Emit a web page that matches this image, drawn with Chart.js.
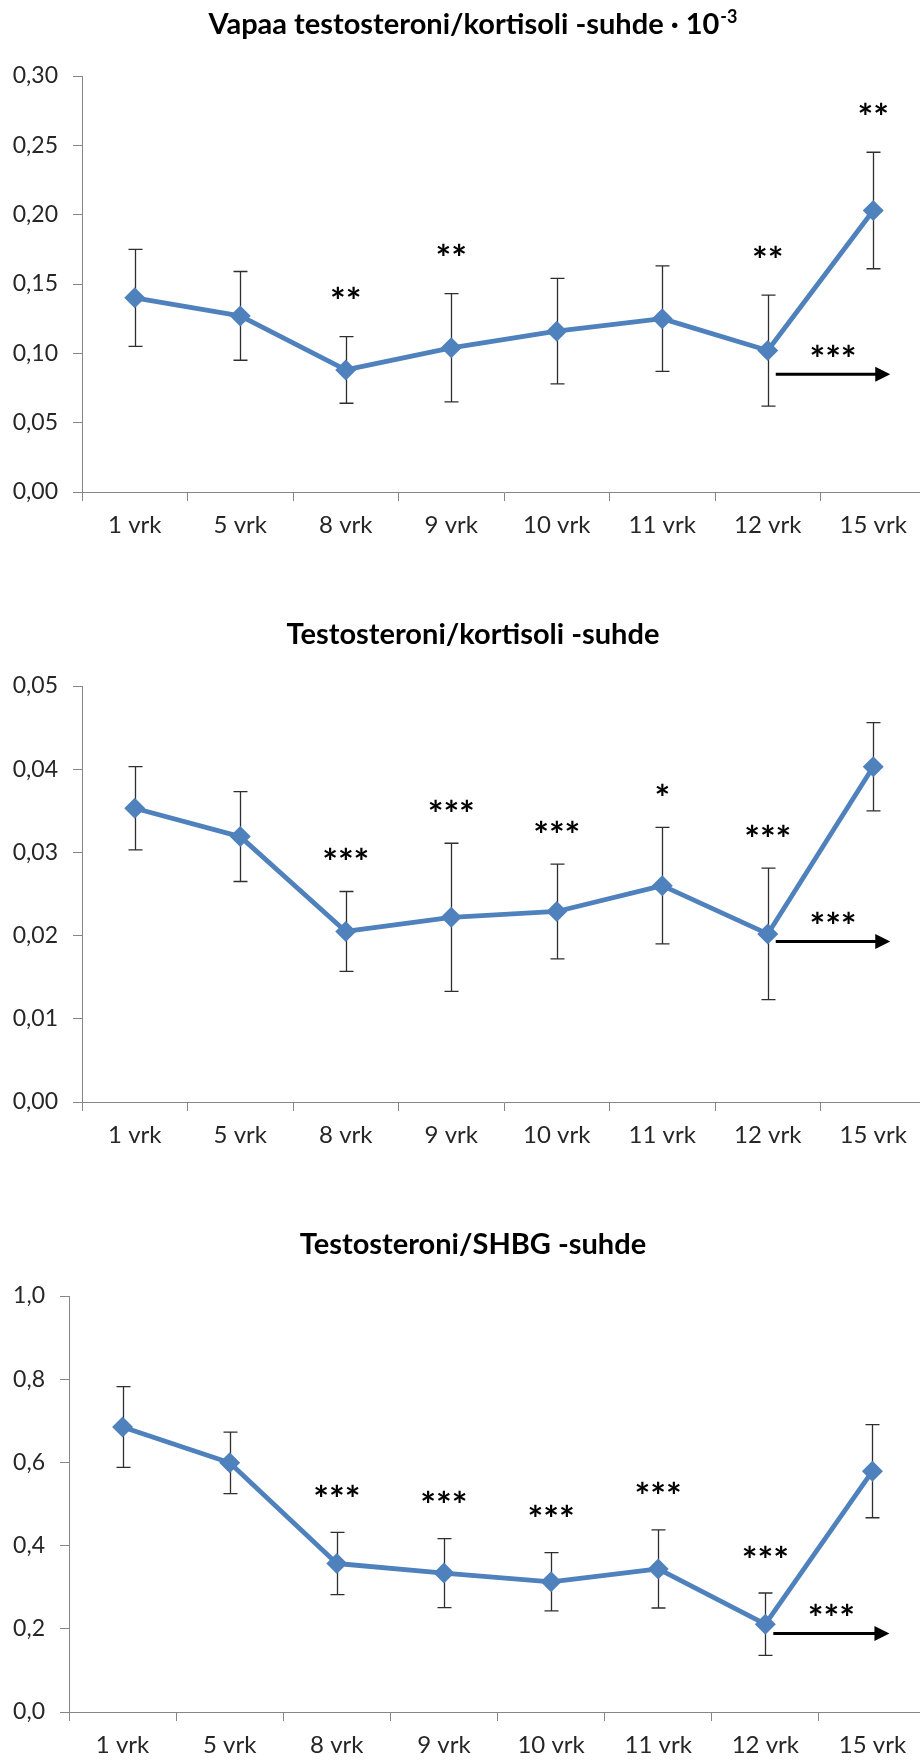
<!DOCTYPE html>
<html>
<head>
<meta charset="utf-8">
<script src="https://cdn.jsdelivr.net/npm/chart.js@4.4.1/dist/chart.umd.min.js"></script>
<style>
  html, body { margin: 0; padding: 0; background: #ffffff; }
  body { width: 920px; height: 1761px; overflow: hidden; position: relative; }
  .panel { position: absolute; left: 0; width: 946px; height: 552px; }
  .panel canvas { display: block; }
</style>
</head>
<body>
<div class="panel" style="top:0px"><canvas id="freeTcChart" width="946" height="552"></canvas></div>
<div class="panel" style="top:610px"><canvas id="tcChart" width="946" height="552"></canvas></div>
<div class="panel" style="top:1220px"><canvas id="tShbgChart" width="946" height="552"></canvas></div>
<script>
// Measurement days
const categories = ['1 vrk', '5 vrk', '8 vrk', '9 vrk', '10 vrk', '11 vrk', '12 vrk', '15 vrk'];

// Free testosterone / cortisol ratio (x 10^-3): mean and SD
const freeTcMean = [0.140, 0.127, 0.088, 0.104, 0.116, 0.125, 0.102, 0.203];
const freeTcSd   = [0.035, 0.032, 0.024, 0.039, 0.038, 0.038, 0.040, 0.042];
const freeTcSig  = ['', '', '**', '**', '', '', '**', '**'];
const freeTcTicks = [0, 0.05, 0.10, 0.15, 0.20, 0.25, 0.30];

// Testosterone / cortisol ratio: mean and SD
const tcMean = [0.0353, 0.0319, 0.0205, 0.0222, 0.0229, 0.0260, 0.0202, 0.0403];
const tcSd   = [0.0050, 0.0054, 0.0048, 0.0089, 0.0057, 0.0070, 0.0079, 0.0053];
const tcSig  = ['', '', '***', '***', '***', '*', '***', ''];
const tcTicks = [0, 0.01, 0.02, 0.03, 0.04, 0.05];

// Testosterone / SHBG ratio: mean and SD
const tShbgMean = [0.685, 0.599, 0.357, 0.334, 0.313, 0.344, 0.211, 0.579];
const tShbgSd   = [0.097, 0.074, 0.075, 0.083, 0.070, 0.094, 0.075, 0.112];
const tShbgSig  = ['', '', '***', '***', '***', '***', '***', ''];
const tShbgTicks = [0, 0.2, 0.4, 0.6, 0.8, 1.0];

// Significance of the change from 12 vrk to 15 vrk (drawn with an arrow)
const recoverySig = ['***', '***', '***'];
const recoveryArrowLevel = [0.085, 0.0193, 0.189];

const BLUE = '#4F81BD';
const AXIS = '#868686';
const TEXT = '#262626';
const FONT = 'Lato, "Open Sans", sans-serif';

function fmt(v, dec) {
  return v.toFixed(dec).replace('.', ',');
}

// Draws text so that its visible glyphs are centred on (x, y)
function drawCentered(ctx, text, x, y) {
  ctx.textAlign = 'center';
  ctx.textBaseline = 'alphabetic';
  const m = ctx.measureText(text);
  ctx.fillText(text, x, y + (m.actualBoundingBoxAscent - m.actualBoundingBoxDescent) / 2);
}

function titlePlugin(main, sup) {
  return {
    id: 'panelTitle',
    afterDraw(chart) {
      const ctx = chart.ctx;
      ctx.save();
      ctx.fillStyle = '#000000';
      ctx.textBaseline = 'alphabetic';
      ctx.textAlign = 'left';
      const mainFont = 'bold 29px ' + FONT;
      const supFont = 'bold 18px ' + FONT;
      ctx.font = mainFont;
      const wMain = ctx.measureText(main).width;
      ctx.font = supFont;
      const wSup = sup ? ctx.measureText(sup).width + 1 : 0;
      const x0 = chart.width / 2 - (wMain + wSup) / 2;
      const base = 34;
      ctx.font = mainFont;
      ctx.fillText(main, x0, base);
      if (sup) {
        ctx.font = supFont;
        ctx.fillText(sup, x0 + wMain + 1, base - 11);
      }
      ctx.restore();
    }
  };
}

function errorBarPlugin(mean, sd) {
  return {
    id: 'errorBars',
    beforeDatasetsDraw(chart) {
      const { ctx, scales: { x, y } } = chart;
      ctx.save();
      ctx.strokeStyle = '#2e2e2e';
      ctx.lineWidth = 1.3;
      mean.forEach((m, i) => {
        const px = Math.round(x.getPixelForValue(i)) + 0.5;
        const top = y.getPixelForValue(m + sd[i]);
        const bot = y.getPixelForValue(m - sd[i]);
        ctx.beginPath();
        ctx.moveTo(px, top); ctx.lineTo(px, bot);
        ctx.moveTo(px - 7, top); ctx.lineTo(px + 7, top);
        ctx.moveTo(px - 7, bot); ctx.lineTo(px + 7, bot);
        ctx.stroke();
      });
      ctx.restore();
    }
  };
}

function sigPlugin(mean, sd, sig, gap, arrowLevel, arrowText) {
  return {
    id: 'sigMarks',
    afterDatasetsDraw(chart) {
      const { ctx, scales: { x, y } } = chart;
      ctx.save();
      ctx.fillStyle = '#000000';
      ctx.strokeStyle = '#000000';
      ctx.font = 'bold 37px ' + FONT;
      sig.forEach((t, i) => {
        if (!t) return;
        const px = x.getPixelForValue(i);
        const top = y.getPixelForValue(mean[i] + sd[i]);
        drawCentered(ctx, t, px, top - gap);
      });
      // arrow from 12 vrk towards 15 vrk
      const ay = y.getPixelForValue(arrowLevel);
      const x0 = x.getPixelForValue(6) + 8;
      const x1 = x.getPixelForValue(7) + 17;
      ctx.lineWidth = 3;
      ctx.beginPath();
      ctx.moveTo(x0, ay);
      ctx.lineTo(x1 - 12, ay);
      ctx.stroke();
      ctx.beginPath();
      ctx.moveTo(x1, ay);
      ctx.lineTo(x1 - 15, ay - 7.5);
      ctx.lineTo(x1 - 15, ay + 7.5);
      ctx.closePath();
      ctx.fill();
      drawCentered(ctx, arrowText, (x0 + x1) / 2, ay - 24);
      ctx.restore();
    }
  };
}

function makeChart(id, p) {
  return new Chart(document.getElementById(id), {
    type: 'line',
    data: {
      labels: categories,
      datasets: [{
        data: p.mean,
        borderColor: BLUE,
        backgroundColor: BLUE,
        borderWidth: 4.8,
        borderJoinStyle: 'round',
        borderCapStyle: 'round',
        tension: 0,
        pointStyle: 'rectRot',
        pointRadius: 10.5,
        pointHoverRadius: 10.5,
        pointBorderWidth: 0,
        pointBackgroundColor: BLUE,
        clip: false
      }]
    },
    options: {
      responsive: false,
      animation: false,
      events: [],
      layout: { padding: { top: 76, right: 20, bottom: 0, left: 0 } },
      plugins: {
        legend: { display: false },
        tooltip: { enabled: false },
        title: { display: false }
      },
      scales: {
        x: {
          type: 'category',
          offset: true,
          grid: { offset: true, drawOnChartArea: false, drawTicks: true, tickLength: 9, color: AXIS, lineWidth: 1 },
          border: { display: true, color: AXIS, width: 1 },
          ticks: { font: { family: FONT, size: 24 }, color: TEXT, padding: 10, maxRotation: 0, autoSkip: false },
          afterFit(s) { s.height = 60; }
        },
        y: {
          min: 0,
          max: p.ticks[p.ticks.length - 1],
          grid: { drawOnChartArea: false, drawTicks: true, tickLength: 9, color: AXIS, lineWidth: 1 },
          border: { display: true, color: AXIS, width: 1 },
          ticks: {
            font: { family: FONT, size: 23 },
            color: TEXT,
            padding: 15,
            callback: (v) => fmt(v, p.dec)
          },
          afterBuildTicks(s) { s.ticks = p.ticks.map(v => ({ value: v })); },
          afterFit(s) { s.width = p.axisWidth; }
        }
      }
    },
    plugins: [
      errorBarPlugin(p.mean, p.sd),
      sigPlugin(p.mean, p.sd, p.sig, p.gap, p.arrowLevel, p.arrowText),
      titlePlugin(p.title, p.sup)
    ]
  });
}

makeChart('freeTcChart', {
  mean: freeTcMean, sd: freeTcSd, sig: freeTcSig, ticks: freeTcTicks, dec: 2,
  axisWidth: 82, gap: 44, arrowLevel: recoveryArrowLevel[0], arrowText: recoverySig[0],
  title: 'Vapaa testosteroni/kortisoli -suhde \u00B7 10', sup: '-3'
});
makeChart('tcChart', {
  mean: tcMean, sd: tcSd, sig: tcSig, ticks: tcTicks, dec: 2,
  axisWidth: 82, gap: 38, arrowLevel: recoveryArrowLevel[1], arrowText: recoverySig[1],
  title: 'Testosteroni/kortisoli -suhde', sup: ''
});
makeChart('tShbgChart', {
  mean: tShbgMean, sd: tShbgSd, sig: tShbgSig, ticks: tShbgTicks, dec: 1,
  axisWidth: 69, gap: 42, arrowLevel: recoveryArrowLevel[2], arrowText: recoverySig[2],
  title: 'Testosteroni/SHBG -suhde', sup: ''
});
</script>
</body>
</html>
